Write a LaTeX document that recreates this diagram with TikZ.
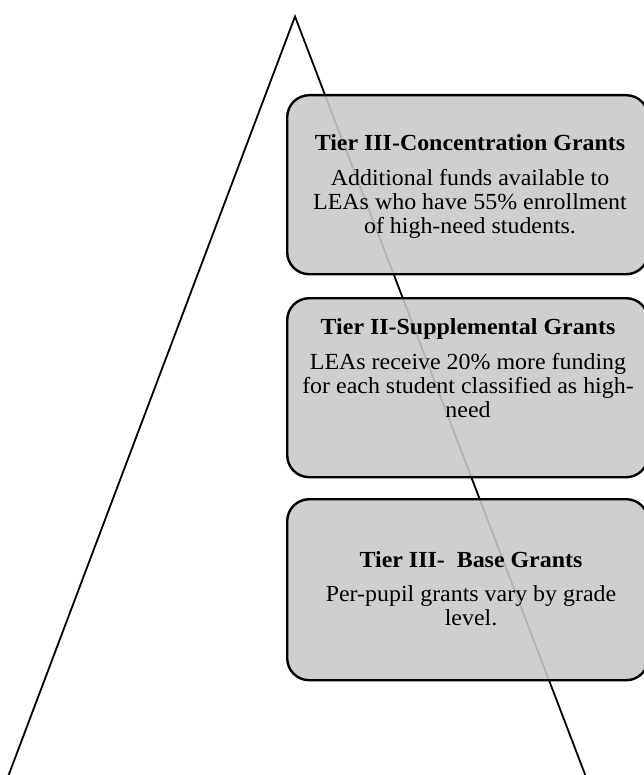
\documentclass[tikz,border=0pt]{standalone}
\usepackage{fontspec}
\setmainfont{Liberation Serif}[FakeStretch=1.04]
\definecolor{boxfill}{gray}{0.79}
\begin{document}
\begin{tikzpicture}[x=1pt,y=-1pt,
  tier/.style={draw=black, line width=2.4pt, rounded corners=22pt,
    fill=boxfill, fill opacity=0.89, draw opacity=1,
    minimum width=361pt, anchor=north west, inner sep=0pt},
  tiertext/.style={align=center, font=\fontsize{23}{24}\selectfont,
    anchor=base, inner sep=0pt},
  side/.style={line width=1.8pt, line join=miter}]
\useasboundingbox (0,0) rectangle (644,775);

% pyramid outline, drawn first so the boxes veil it
\coordinate (apex) at (295,16.5);
\coordinate (bl) at (3,790);
\coordinate (br) at (591,790);
\draw[side] (bl) -- (apex) -- (br);

% tier boxes
\node[tier, minimum height=179pt] (box1) at (286,94) {};
\node[tier, minimum height=179pt] (box2) at (286,297) {};
\node[tier, minimum height=181pt] (box3) at (286,498) {};

% tier texts (placed by the baseline of their last line)
\node[tiertext] (t1) at (470,234) {\textbf{Tier III-Concentration Grants}\\[11pt]
  Additional funds available to\\
  LEAs who have 55\% enrollment\\
  of high-need students.};
\node[tiertext] (t2) at (468,417) {\textbf{Tier II-Supplemental Grants}\\[11pt]
  LEAs receive 20\% more funding\\
  for each student classified as high-\\
  need};
\node[tiertext] (t3) at (471,625) {\textbf{Tier III-\ \ Base Grants}\\[10pt]
  Per-pupil grants vary by grade\\
  level.};
\end{tikzpicture}
\end{document}
